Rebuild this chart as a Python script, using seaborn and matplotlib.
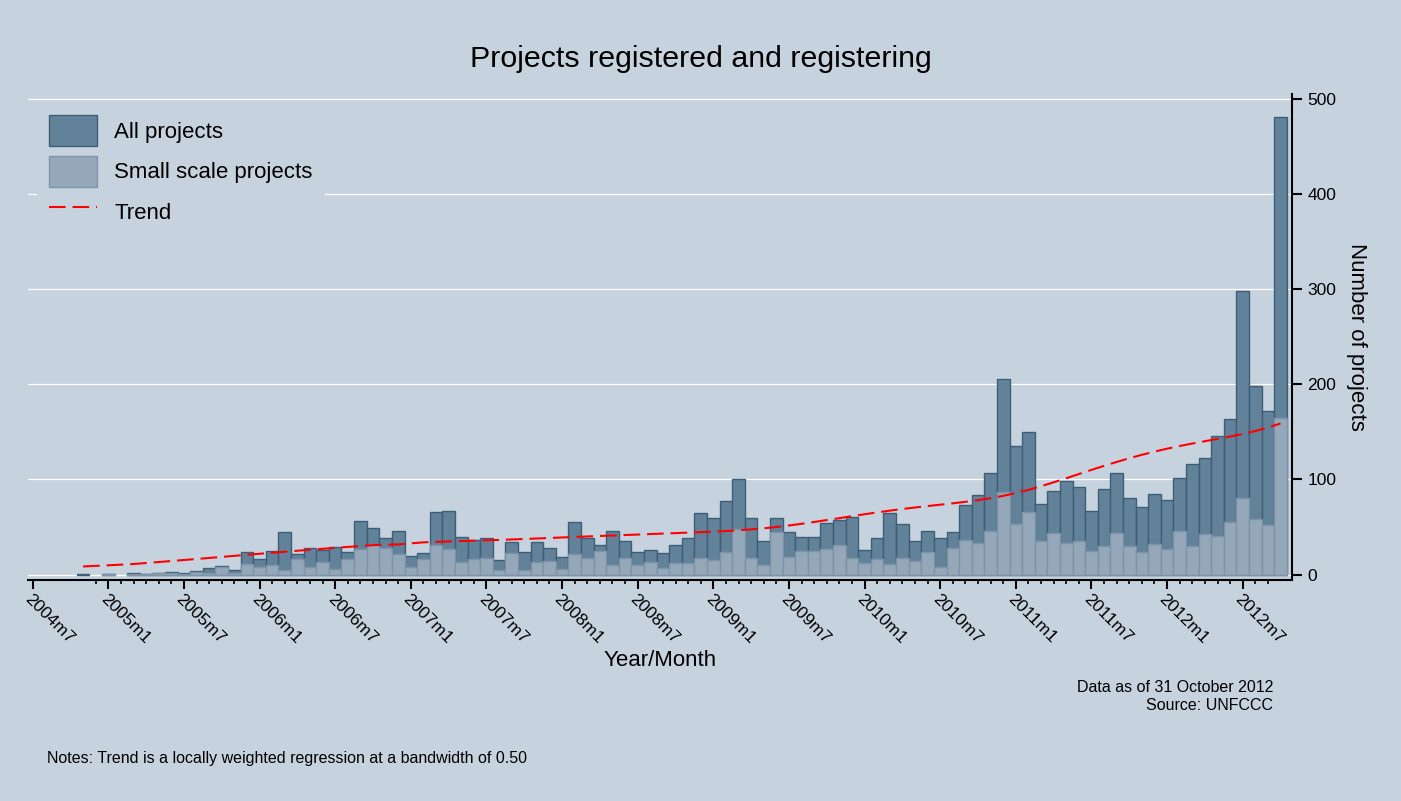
import numpy as np
import pandas as pd
import seaborn as sns
import matplotlib.pyplot as plt
from matplotlib.patches import Patch
from matplotlib.lines import Line2D

plt.rcParams['font.family'] = ['Liberation Sans', 'DejaVu Sans']

# projects per month, 2004m11 .. 2012m10 (None = no project that month)
all_projects = [
    1, None,                                              # 2004
    1, None, 2, 1, 2, 3, 2, 4, 7, 9, 5, 24,               # 2005
    16, 25, 45, 22, 28, 26, 29, 24, 56, 49, 39, 46,       # 2006
    20, 23, 66, 67, 40, 36, 39, 15, 34, 24, 34, 28,       # 2007
    19, 55, 38, 31, 46, 35, 24, 26, 23, 31, 38, 65,       # 2008
    60, 77, 100, 59, 35, 59, 45, 40, 40, 54, 57, 61,      # 2009
    26, 39, 65, 53, 35, 46, 38, 45, 73, 84, 107, 205,     # 2010
    135, 150, 74, 88, 98, 92, 67, 90, 107, 80, 71, 85,    # 2011
    78, 102, 116, 122, 146, 163, 298, 198, 172, 481,      # 2012
]
small_scale = [
    0, None,
    1, None, 1, 1, 2, 2, 1, 3, 2, 8, 2, 11,
    8, 10, 5, 16, 8, 13, 6, 16, 27, 31, 28, 22,
    8, 16, 31, 27, 13, 16, 18, 5, 23, 5, 13, 14,
    6, 22, 17, 25, 10, 18, 10, 13, 7, 12, 12, 18,
    15, 24, 48, 17, 10, 45, 19, 25, 25, 27, 31, 17,
    12, 16, 11, 17, 14, 24, 8, 28, 36, 33, 46, 87,
    53, 66, 35, 44, 33, 35, 25, 30, 44, 30, 24, 32,
    27, 46, 30, 43, 41, 55, 80, 58, 52, 165,
]
tick_labels = ['2004m7', '2005m1', '2005m7', '2006m1', '2006m7', '2007m1', '2007m7',
               '2008m1', '2008m7', '2009m1', '2009m7', '2010m1', '2010m7', '2011m1',
               '2011m7', '2012m1', '2012m7']

BG = '#C6D3DF'
DARK, DARK_EDGE = '#62829A', '#3E5E77'
LIGHT, LIGHT_EDGE = '#95A8BA', '#7D93A8'

periods = pd.period_range('2004-11', '2012-10', freq='M')
base = pd.Period('2004-07', freq='M')
df = pd.DataFrame({
    'pos': [(p - base).n for p in periods],
    'all': pd.to_numeric(pd.Series(all_projects), errors='coerce'),
    'small': pd.to_numeric(pd.Series(small_scale), errors='coerce'),
}).dropna()


# running-mean lowess, tricube weights, bandwidth 0.5 (Stata style)
def lowess_mean(x, y, bw=0.5):
    x = np.asarray(x, float)
    y = np.asarray(y, float)
    n = len(x)
    k = int(np.floor((n * bw - 0.5) / 2))
    out = np.empty(n)
    for i in range(n):
        lo, hi = max(0, i - k), min(n - 1, i + k)
        xs, ys = x[lo:hi + 1], y[lo:hi + 1]
        delta = 1.0001 * max(x[hi] - x[i], x[i] - x[lo])
        w = (1 - (np.abs(xs - x[i]) / delta) ** 3) ** 3
        out[i] = (w * ys).sum() / w.sum()
    return out


df['trend'] = lowess_mean(df['pos'], df['all'])

fig = plt.figure(figsize=(14.01, 8.01), dpi=100, facecolor=BG)
ax = fig.add_axes([28 / 1401, (801 - 579.5) / 801, 1264 / 1401, 485.5 / 801])
ax.set_facecolor(BG)

for y in range(0, 501, 100):
    ax.axhline(y, color='white', lw=0.9, zorder=0)

sns.barplot(data=df, x='pos', y='all', native_scale=True, width=1, ax=ax,
            color=DARK, saturation=1, edgecolor=DARK_EDGE, linewidth=1,
            errorbar=None, zorder=2)
sns.barplot(data=df[df['small'] > 0], x='pos', y='small', native_scale=True, width=1,
            ax=ax, color=LIGHT, saturation=1, edgecolor=LIGHT_EDGE, linewidth=1,
            errorbar=None, zorder=3)
sns.lineplot(data=df, x='pos', y='trend', ax=ax, color='red', lw=1.5,
             linestyle=(0, (8, 3.3)), zorder=4)

ax.set_xlim(-0.37, 99.91)
ax.set_ylim(-5.1, 504.8)
ax.set_xlabel('')
ax.set_ylabel('')

for s in ['top', 'left']:
    ax.spines[s].set_visible(False)
for s in ['bottom', 'right']:
    ax.spines[s].set_linewidth(1.5)
    ax.spines[s].set_color('black')

major = list(range(0, 97, 6))
ax.set_xticks(major)
ax.set_xticklabels(tick_labels, rotation=-45, ha='left', va='top',
                   rotation_mode='anchor', fontsize=12.5)
ax.set_xticks([m for m in range(5, 99) if m not in major], minor=True)
ax.tick_params(axis='x', which='major', length=6.5, width=1.5, pad=2.5, direction='out')
ax.tick_params(axis='x', which='minor', length=3, width=1.2, direction='out')

ax.yaxis.tick_right()
ax.set_yticks(range(0, 501, 100))
ax.tick_params(axis='y', length=7, width=1.5, pad=4, labelsize=12.5, direction='out')

handles = [
    Patch(facecolor=DARK, edgecolor=DARK_EDGE, lw=1, label='All projects'),
    Patch(facecolor=LIGHT, edgecolor=LIGHT_EDGE, lw=1, label='Small scale projects'),
    Line2D([], [], color='red', lw=1.5, linestyle=(0, (8, 3.3)), label='Trend'),
]
leg = ax.legend(handles=handles, loc='upper left',
                bbox_to_anchor=(37 / 1401, 1 - 103 / 801), bbox_transform=fig.transFigure,
                fontsize=16, handlelength=2.16, handleheight=1.77, labelspacing=0.43,
                handletextpad=0.78, borderpad=0.54, borderaxespad=0,
                frameon=True, fancybox=False, framealpha=1)
leg.get_frame().set_facecolor(BG)
leg.get_frame().set_edgecolor('none')
leg.set_zorder(10)

fig.text(0.5, 1 - 59 / 801, 'Projects registered and registering',
         ha='center', va='center', fontsize=21.9)
fig.text(660 / 1401, 1 - 661 / 801, 'Year/Month', ha='center', va='center', fontsize=16)
fig.text(1357 / 1401, 1 - 337 / 801, 'Number of projects', ha='center', va='center',
         rotation=-90, fontsize=16)
fig.text(1273 / 1401, 1 - 688 / 801, 'Data as of 31 October 2012',
         ha='right', va='center', fontsize=11.5)
fig.text(1273 / 1401, 1 - 705 / 801, 'Source: UNFCCC',
         ha='right', va='center', fontsize=11.5)
fig.text(47 / 1401, 1 - 758 / 801,
         'Notes: Trend is a locally weighted regression at a bandwidth of 0.50',
         ha='left', va='center', fontsize=11.5)

fig.savefig('out.png', dpi=100, facecolor=BG)
